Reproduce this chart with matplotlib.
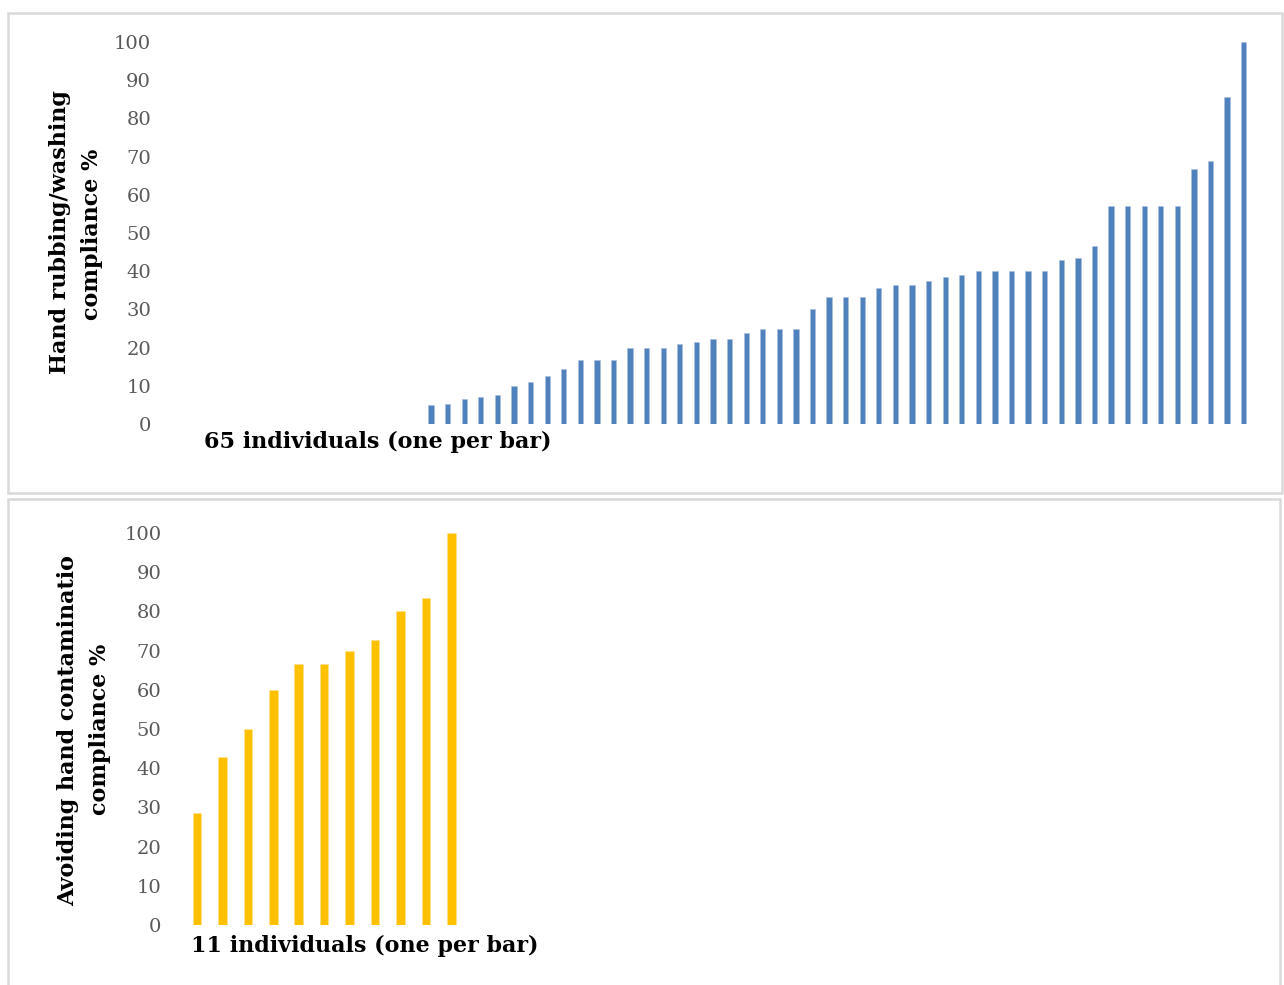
import matplotlib.pyplot as plt
from matplotlib.patches import Rectangle

# compliance % per individual, sorted ascending
hand_rubbing = [0, 0, 0, 0, 0, 0, 0, 0, 0, 0, 0, 0, 0, 0, 0,
                5, 5.3, 6.5, 7.1, 7.7, 10, 11, 12.5, 14.3, 16.7, 16.7, 16.7,
                20, 20, 20, 21, 21.4, 22.2, 22.2, 23.8, 25, 25, 25, 30,
                33.3, 33.3, 33.3, 35.7, 36.4, 36.4, 37.5, 38.5, 38.9,
                40, 40, 40, 40, 40, 42.9, 43.5, 46.7,
                57.1, 57.1, 57.1, 57.1, 57.1, 66.7, 68.8, 85.7, 100]
avoid_contam = [28.6, 42.9, 50, 60, 66.7, 66.7, 70, 72.7, 80, 83.3, 100]
y_ticks = [0, 10, 20, 30, 40, 50, 60, 70, 80, 90, 100]

W, H = 1284, 985
plt.rcParams['font.family'] = ['DejaVu Serif']


def px_box(x0, y0, x1, y1):
    """pixel box (top-left origin) -> figure fraction rect"""
    return [x0 / W, (H - y1) / H, (x1 - x0) / W, (y1 - y0) / H]


def px(x, y):
    return x / W, (H - y) / H


fig = plt.figure(figsize=(W / 100, H / 100), dpi=100)

# panel frames
for x0, y0, x1, y1 in [(7.5, 12.5, 1281.5, 492.5), (7.5, 499, 1280, 995)]:
    fig.patches.append(Rectangle((x0 / W, (H - y1) / H), (x1 - x0) / W, (y1 - y0) / H,
                                 transform=fig.transFigure, fill=False,
                                 edgecolor='#d9d9d9', lw=1.8))


def style(ax):
    for s in ax.spines.values():
        s.set_visible(False)
    ax.set_ylim(0, 100)
    ax.set_yticks(y_ticks)
    ax.set_xticks([])
    ax.tick_params(axis='y', length=0, pad=16.5, labelsize=14, labelcolor='#595959')


LABEL = dict(fontsize=16, fontweight='bold', color='black')

# top chart
ax1 = fig.add_axes(px_box(174, 42, 1252, 424))
ax1.bar(range(len(hand_rubbing)), hand_rubbing, width=0.32, color='#4f81bd',
        edgecolor='#a9c0de', linewidth=0.4)
ax1.set_xlim(-0.5, len(hand_rubbing) - 0.5)
style(ax1)

fig.text(*px(60, 232), 'Hand rubbing/washing', rotation=90, ha='center', va='center', **LABEL)
fig.text(*px(92, 234), 'compliance %', rotation=90, ha='center', va='center', **LABEL)
fig.text(*px(378, 442), '65 individuals (one per bar)', ha='center', va='center', **LABEL)

# bottom chart
ax2 = fig.add_axes(px_box(184.3, 533, 464, 925))
ax2.bar(range(len(avoid_contam)), avoid_contam, width=0.34, color='#ffc000',
        edgecolor='#ffe08a', linewidth=0.4)
ax2.set_xlim(-0.5, len(avoid_contam) - 0.5)
style(ax2)

fig.text(*px(68, 730), 'Avoiding hand contaminatio', rotation=90, ha='center', va='center', **LABEL)
fig.text(*px(100, 729), 'compliance %', rotation=90, ha='center', va='center', **LABEL)
fig.text(*px(365, 946), '11 individuals (one per bar)', ha='center', va='center', **LABEL)

fig.savefig('out.png', dpi=100)
